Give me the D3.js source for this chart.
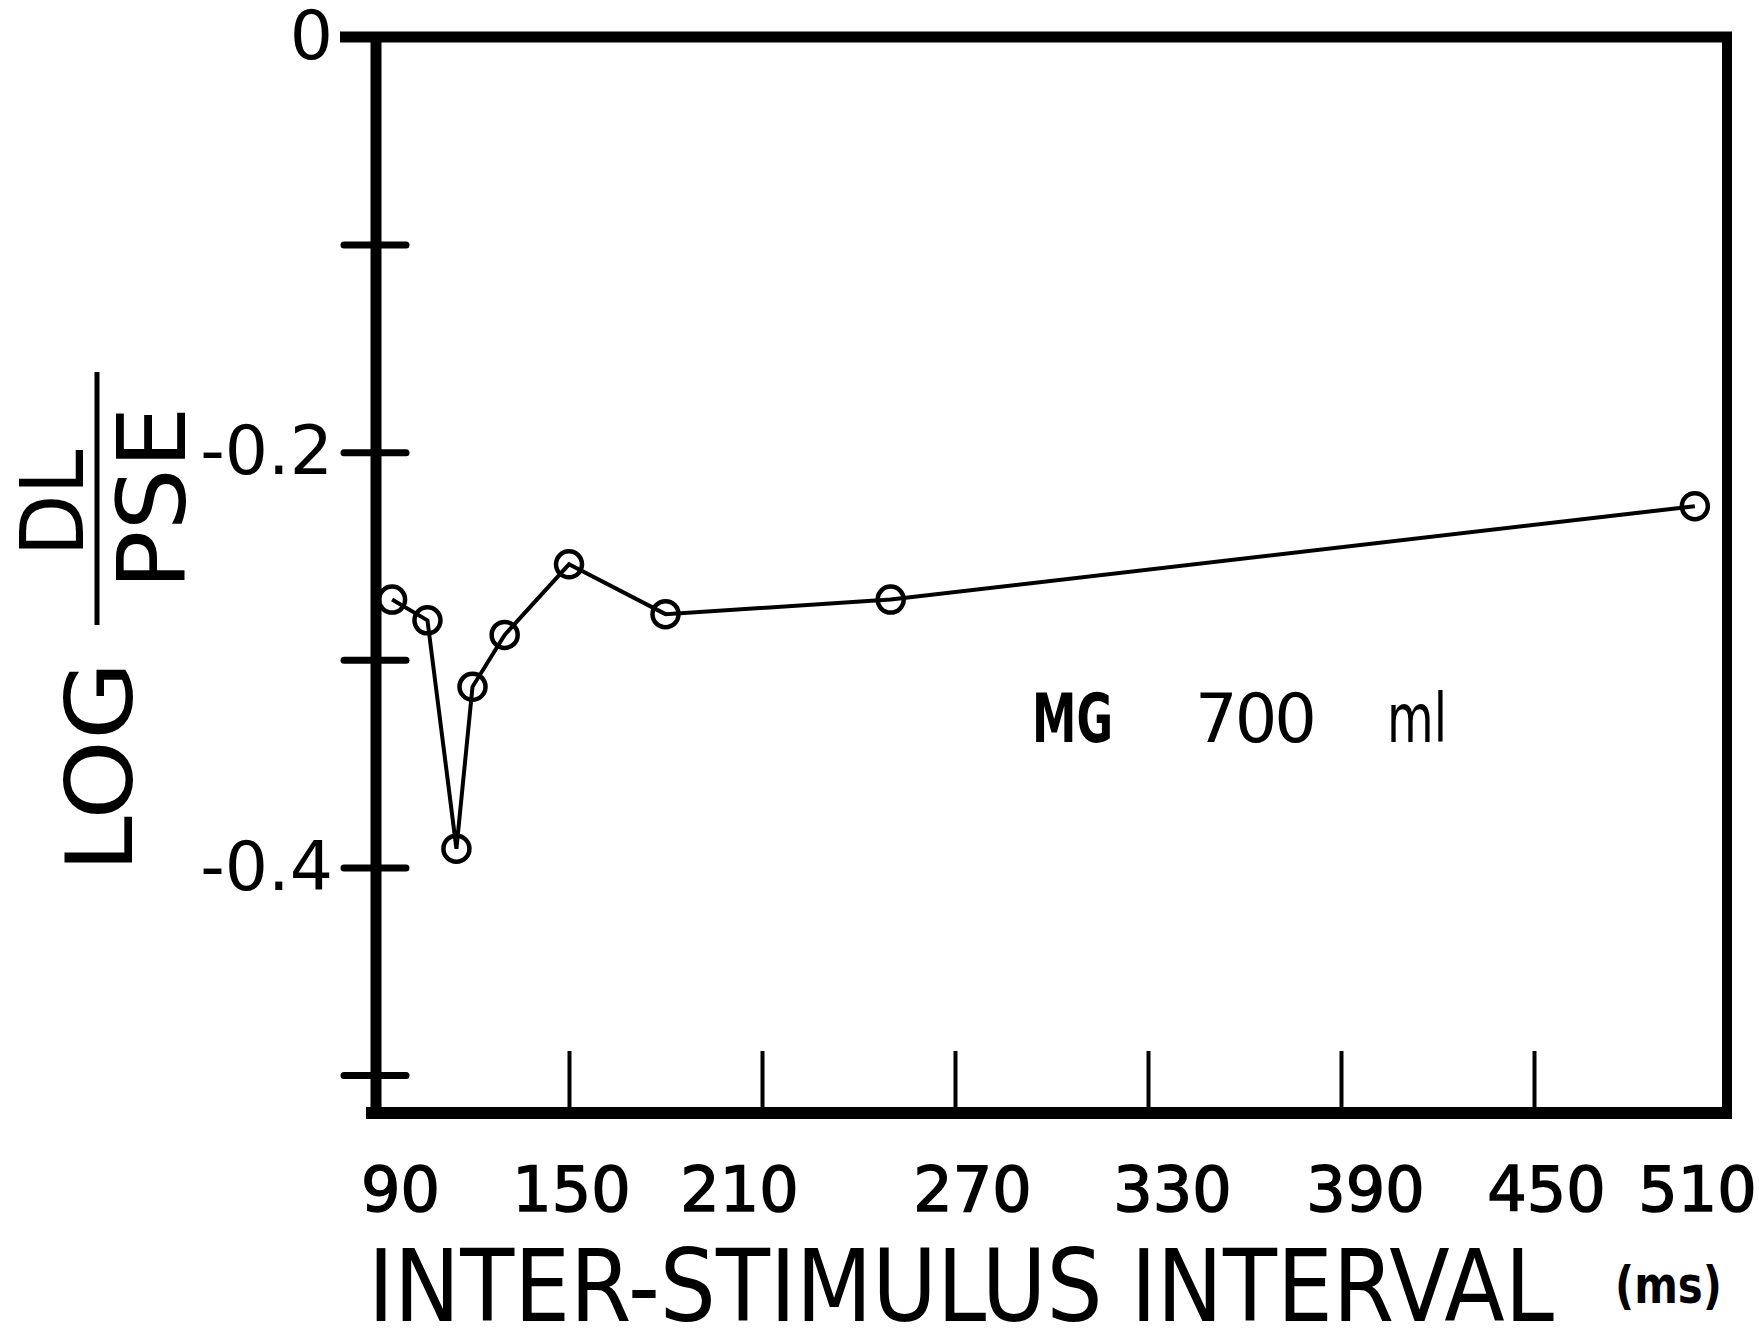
<!DOCTYPE html>
<html>
<head>
<meta charset="utf-8">
<script src="https://cdn.jsdelivr.net/npm/d3@7/dist/d3.min.js"></script>
<style>
  html, body { margin: 0; padding: 0; background: #fff; }
  svg { display: block; }
  text { font-family: "DejaVu Sans", "Liberation Sans", sans-serif; fill: #000; }
</style>
</head>
<body>
<svg id="chart" width="1759" height="1335"></svg>
<script>
// Inter-stimulus interval (ms) and log(DL/PSE), subject MG, 700 ml
const isi = [95, 106, 115, 120, 130, 150, 180, 250, 500];
const logRatio = [-0.271, -0.281, -0.391, -0.313, -0.288, -0.254, -0.278, -0.271, -0.226];

const xTicks = [90, 150, 210, 270, 330, 390, 450, 510];
const xTickLabels = ["90", "150", "210", "270", "330", "390", "450", "510"];
// hand-lettered labels sit a little off their ticks
const xLabelNudge = [24, 2, -23, 17, 24, 24, 12, -30];

const yTicks = [0, -0.1, -0.2, -0.3, -0.4, -0.5];
const yTickLabels = ["0", "", "-0.2", "", "-0.4", ""];

const svg = d3.select("#chart");
const frame = { left: 376, right: 1727, top: 37, bottom: 1113 };

const x = d3.scaleLinear().domain([90, 510]).range([frame.left, frame.right]);
const y = d3.scaleLinear().domain([0, -0.5]).range([37, 1075]);

// squeeze a text horizontally so it spans the given width
function fitWidth(sel, width) {
  const w = sel.node().getComputedTextLength();
  return width / w;
}

// plot frame
const frameG = svg.append("g").attr("stroke", "#000").attr("fill", "none");
frameG.append("line").attr("x1", frame.left).attr("x2", frame.left)
  .attr("y1", frame.top - 5).attr("y2", frame.bottom + 6).attr("stroke-width", 11);
frameG.append("line").attr("x1", frame.left - 36).attr("x2", frame.right + 5)
  .attr("y1", frame.top).attr("y2", frame.top).attr("stroke-width", 11);
frameG.append("line").attr("x1", frame.right).attr("x2", frame.right)
  .attr("y1", frame.top - 5).attr("y2", frame.bottom + 6).attr("stroke-width", 10);
frameG.append("line").attr("x1", frame.left - 10).attr("x2", frame.right + 5)
  .attr("y1", frame.bottom).attr("y2", frame.bottom).attr("stroke-width", 12);

// y axis: ticks cross the axis line, only alternate values labelled
const yAxis = svg.append("g")
  .attr("transform", `translate(${frame.left},0)`)
  .call(d3.axisLeft(y).tickValues(yTicks)
    .tickFormat((d, i) => yTickLabels[i])
    .tickSizeInner(0).tickSizeOuter(0).tickPadding(43));
yAxis.select(".domain").remove();
yAxis.selectAll(".tick line")
  .attr("x1", -32).attr("x2", 30)
  .attr("stroke", "#000").attr("stroke-width", 7).attr("stroke-linecap", "round");
yAxis.selectAll(".tick").filter(d => d === 0).select("line").remove();
yAxis.selectAll(".tick text")
  .attr("font-size", 68).attr("font-family", "DejaVu Sans").attr("fill", "#000");

// x axis: ticks point up into the plot, labels below
const xAxis = svg.append("g")
  .attr("transform", `translate(0,${frame.bottom})`)
  .call(d3.axisBottom(x).tickValues(xTicks)
    .tickFormat((d, i) => xTickLabels[i])
    .tickSizeInner(-62).tickSizeOuter(0).tickPadding(54));
xAxis.select(".domain").remove();
xAxis.selectAll(".tick line")
  .attr("stroke", "#000").attr("stroke-width", 4);
xAxis.selectAll(".tick").filter(d => d === 90 || d === 510).select("line").remove();
xAxis.selectAll(".tick text")
  .attr("dx", (d, i) => xLabelNudge[i])
  .attr("font-size", 62).attr("font-family", "DejaVu Sans")
  .attr("fill", "#000").attr("stroke", "#000").attr("stroke-width", 1.5);

// x axis title, lettered narrow
const xTitle = svg.append("text")
  .attr("font-size", 100)
  .text("INTER-STIMULUS INTERVAL");
xTitle.attr("transform", `translate(368,1321) scale(${fitWidth(xTitle, 1186)},1)`);
const msUnit = svg.append("text")
  .attr("font-size", 52).attr("font-weight", "bold")
  .text("(ms)");
msUnit.attr("transform", `translate(1615,1303) scale(${fitWidth(msUnit, 107)},1)`);

// y axis title: LOG DL/PSE written as a fraction
const yTitle = svg.append("g");
yTitle.append("text")
  .attr("transform", "translate(132,767) rotate(-90)")
  .attr("text-anchor", "middle").attr("font-size", 92)
  .attr("textLength", 211).attr("lengthAdjust", "spacingAndGlyphs")
  .text("LOG");
yTitle.append("text")
  .attr("transform", "translate(83,503) rotate(-90)")
  .attr("text-anchor", "middle").attr("font-size", 88)
  .attr("textLength", 107).attr("lengthAdjust", "spacingAndGlyphs")
  .text("DL");
yTitle.append("text")
  .attr("transform", "translate(185,498) rotate(-90)")
  .attr("text-anchor", "middle").attr("font-size", 95)
  .attr("textLength", 183).attr("lengthAdjust", "spacingAndGlyphs")
  .text("PSE");
yTitle.append("line")
  .attr("x1", 97).attr("x2", 97).attr("y1", 372).attr("y2", 625)
  .attr("stroke", "#000").attr("stroke-width", 5);

// data series
const pts = isi.map((d, i) => [d, logRatio[i]]);
svg.append("path")
  .datum(pts)
  .attr("fill", "none").attr("stroke", "#000").attr("stroke-width", 4)
  .attr("d", d3.line().x(d => x(d[0])).y(d => y(d[1])));
svg.append("g").selectAll("circle")
  .data(pts)
  .join("circle")
  .attr("cx", d => x(d[0])).attr("cy", d => y(d[1]))
  .attr("r", 13)
  .attr("fill", "none").attr("stroke", "#000").attr("stroke-width", 4.5);

// condition label
const cond = svg.append("text").attr("y", 742).attr("font-size", 67);
cond.append("tspan").attr("x", 1032).attr("font-weight", "bold")
  .attr("textLength", 81).attr("lengthAdjust", "spacingAndGlyphs").text("MG");
cond.append("tspan").attr("x", 1195)
  .attr("textLength", 122).attr("lengthAdjust", "spacing").text("700");
cond.append("tspan").attr("x", 1387)
  .attr("textLength", 60).attr("lengthAdjust", "spacingAndGlyphs").text("ml");
</script>
</body>
</html>
